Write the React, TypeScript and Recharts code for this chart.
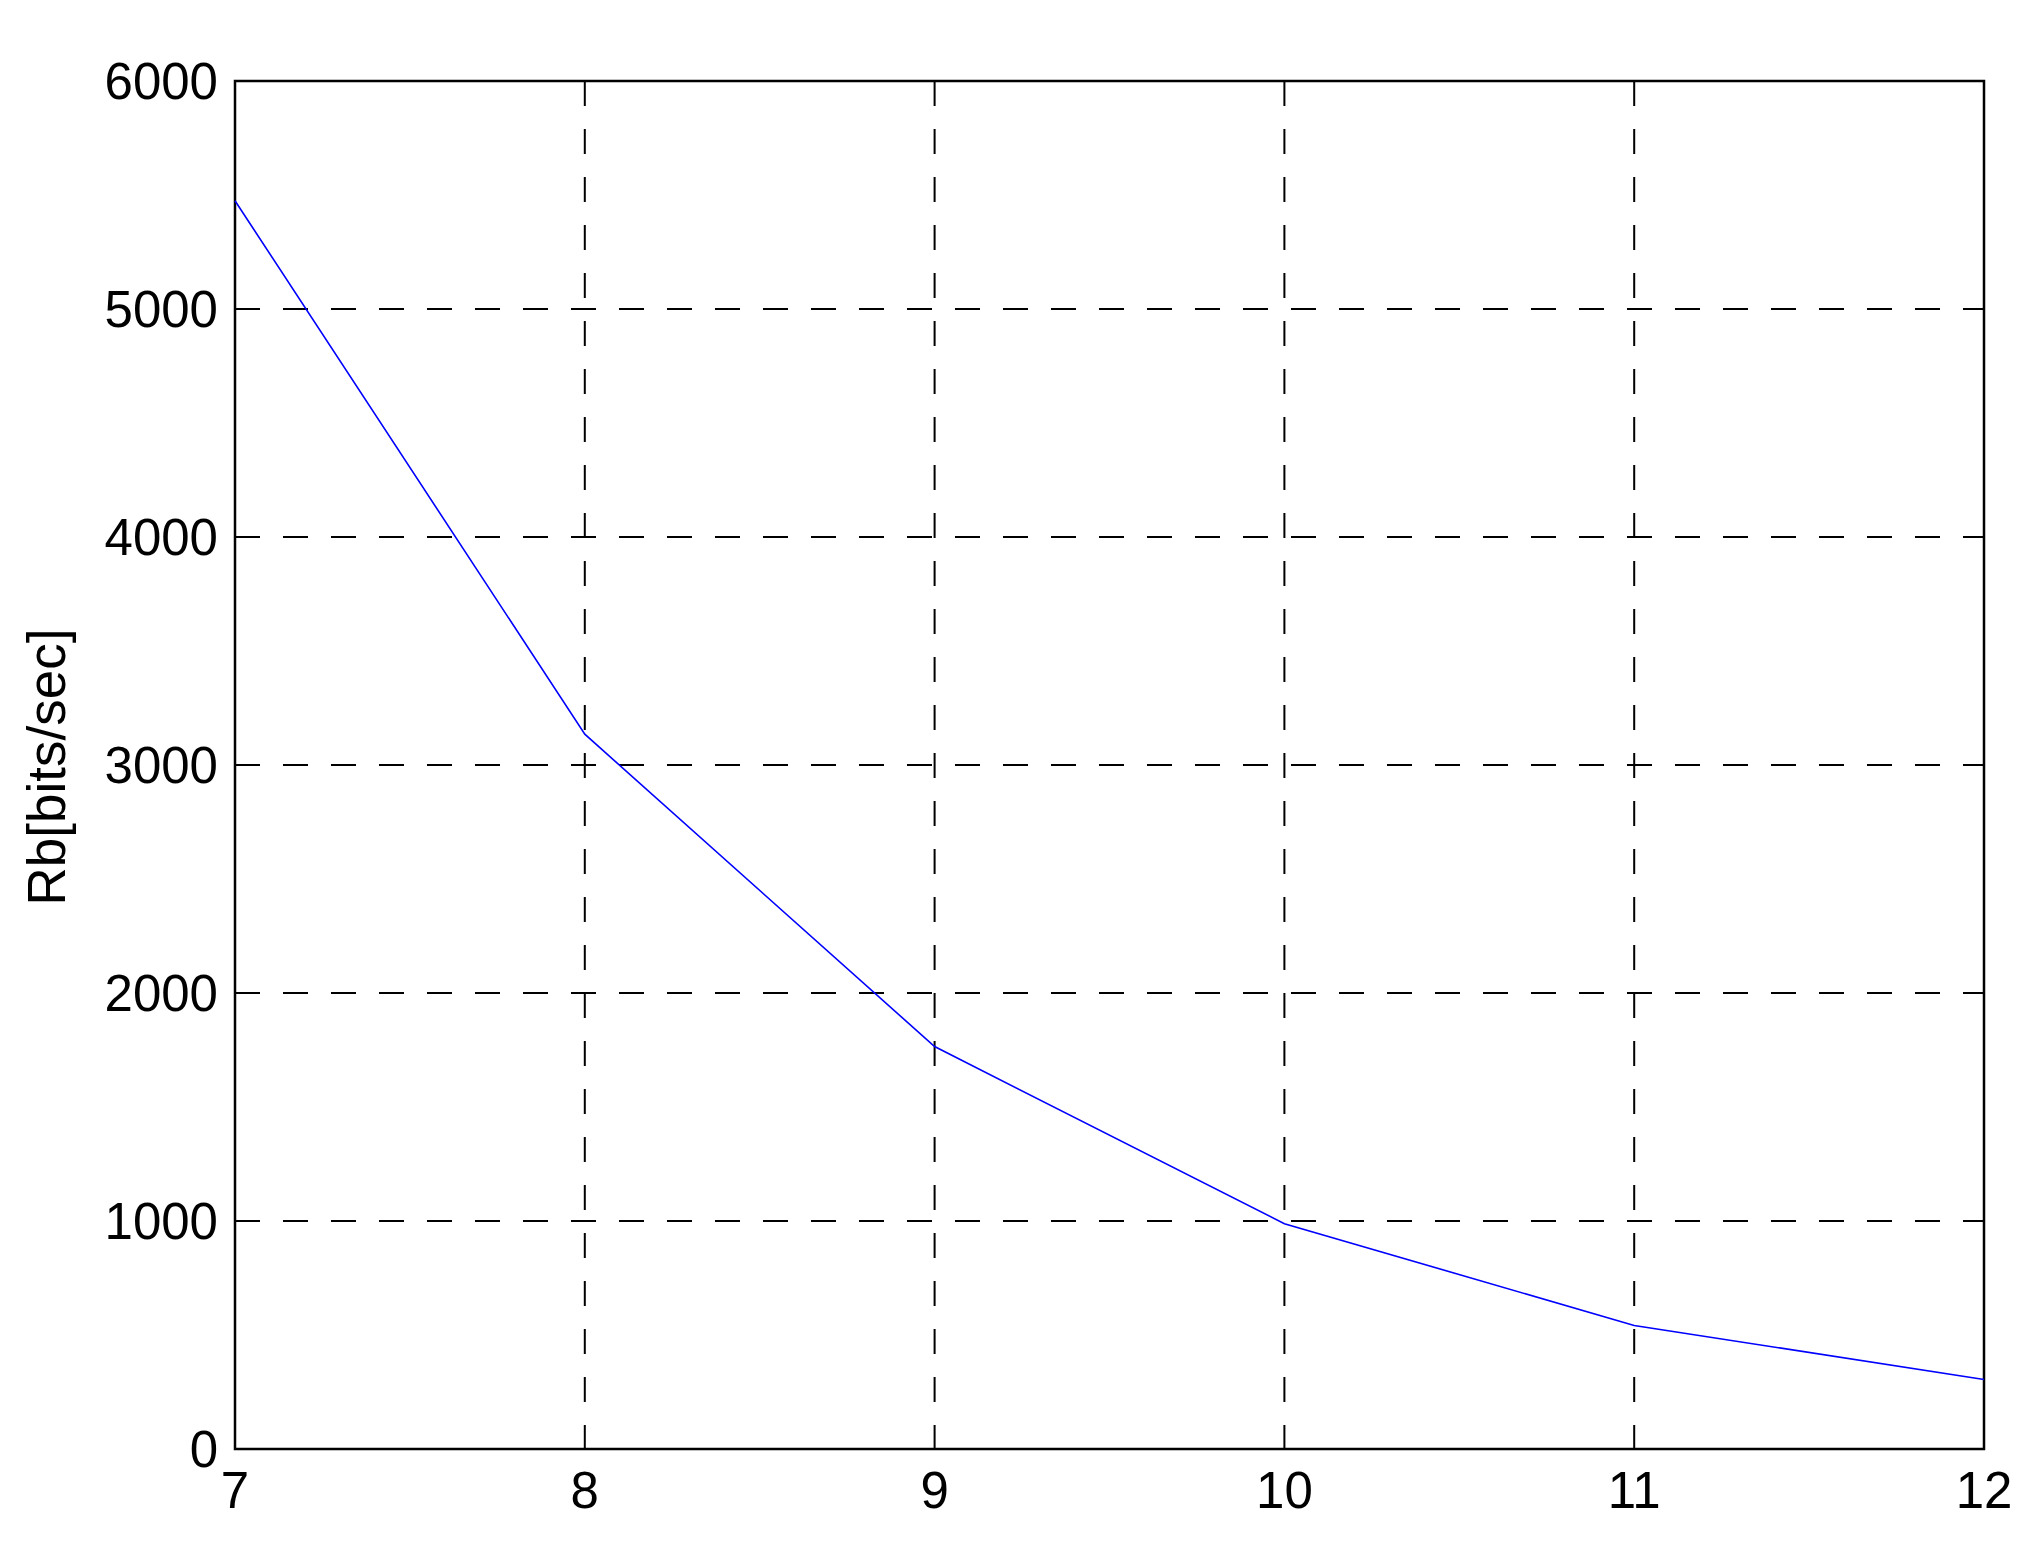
import React from 'react';
import {
    LineChart, Line, XAxis, YAxis, CartesianGrid, ReferenceArea
} from 'recharts';

// Rb vs x
const xValues = [7, 8, 9, 10, 11, 12];
const rbValues = [5475, 3135, 1765, 988, 542, 305];
const xTicks = [7, 8, 9, 10, 11, 12];
const yTicks = [0, 1000, 2000, 3000, 4000, 5000, 6000];

const data = xValues.map((x, i) => ({ x, rb: rbValues[i] }));

const FONT = '"Liberation Sans", Arial, sans-serif';
const LABEL_X = 46; // centre of the rotated y title, px from the left edge

const YLabel = (props: any) => {
    const { viewBox } = props;
    const cy = (viewBox?.y ?? 81) + (viewBox?.height ?? 1368) / 2 + 2;
    return (
        <text
            x={LABEL_X}
            y={cy}
            transform={`rotate(-90, ${LABEL_X}, ${cy})`}
            textAnchor="middle"
            dominantBaseline="central"
            fontFamily={FONT}
            fontSize={53}
            fill="#000"
        >
            Rb[bits/sec]
        </text>
    );
};

const App: React.FC = () => {
    return (
        <div style={{ position: 'absolute', left: 0, top: 0, width: 2044, height: 1557, background: '#fff' }}>
            <LineChart
                width={2044}
                height={1557}
                data={data}
                margin={{ top: 81, right: 60, left: 35, bottom: 28 }}
            >
                <CartesianGrid
                    stroke="#000"
                    strokeWidth={2}
                    strokeDasharray="25 23"
                    horizontalValues={yTicks}
                    verticalValues={xTicks}
                />
                <XAxis
                    type="number"
                    dataKey="x"
                    domain={[7, 12]}
                    ticks={xTicks}
                    height={80}
                    tickLine={false}
                    tickSize={0}
                    tickMargin={23}
                    axisLine={false}
                    tick={{ fontSize: 51, fontFamily: FONT, fill: '#000' }}
                />
                <YAxis
                    type="number"
                    domain={[0, 6000]}
                    ticks={yTicks}
                    width={200}
                    tickLine={false}
                    tickSize={0}
                    tickMargin={17}
                    axisLine={false}
                    tick={{ fontSize: 51, fontFamily: FONT, fill: '#000' }}
                    label={<YLabel />}
                />
                <ReferenceArea
                    x1={7}
                    x2={12}
                    y1={0}
                    y2={6000}
                    fill="none"
                    fillOpacity={0}
                    stroke="#000"
                    strokeWidth={2.5}
                />
                <Line
                    type="linear"
                    dataKey="rb"
                    stroke="#0000ff"
                    strokeWidth={1.6}
                    dot={false}
                    isAnimationActive={false}
                />
            </LineChart>
        </div>
    );
};

export default App;
